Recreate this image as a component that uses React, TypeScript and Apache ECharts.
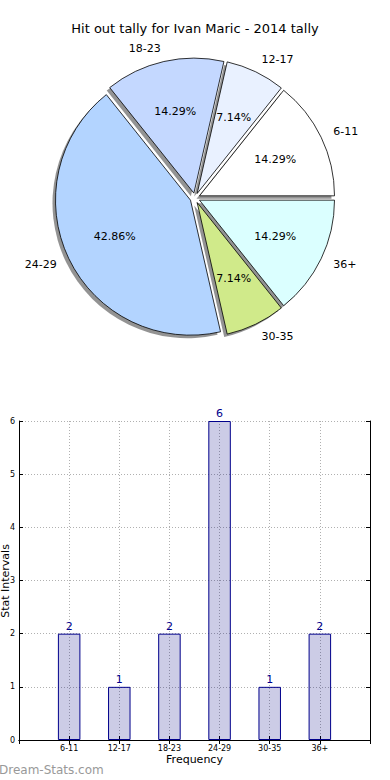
import React, { useEffect, useRef } from 'react';
import * as echarts from 'echarts';

const TITLE = 'Hit out tally for Ivan Maric - 2014 tally';
const categories = ['6-11', '12-17', '18-23', '24-29', '30-35', '36+'];
const counts = [2, 1, 2, 6, 1, 2];
const sliceColors = ['#ffffff', '#e9f1ff', '#c4d8ff', '#b3d4ff', '#d0ea8a', '#dbffff'];
const X_NAME = 'Frequency';
const Y_NAME = 'Stat Intervals';
const WATERMARK = 'Dream-Stats.com';

const FONT = 'DejaVu Sans';
const CX = 195;
const CY = 198;
const R = 135;
const EXPLODE = 5;

export default function App() {
  const ref = useRef<HTMLDivElement>(null);

  useEffect(() => {
    if (!ref.current) return;
    const chart = echarts.init(ref.current, null, { renderer: 'svg' });
    const total = counts.reduce((a, b) => a + b, 0);

    const pieData = (withColor: boolean) =>
      categories.map((c, i) => ({
        name: c,
        value: counts[i],
        selected: true,
        itemStyle: withColor ? { color: sliceColors[i] } : undefined,
      }));

    const pieCommon = {
      type: 'pie',
      startAngle: 0,
      clockwise: false,
      selectedMode: 'multiple',
      selectedOffset: EXPLODE,
      avoidLabelOverlap: false,
      silent: true,
      emphasis: { disabled: true },
      labelLine: { show: false },
    };

    const paddedCats = ['', ...categories, ''];
    const paddedCounts: (number | string)[] = ['-', ...counts, '-'];

    const axisLineStyle = { show: true, lineStyle: { color: '#000', width: 1 } };
    const tickStyle = { show: true, inside: true, length: 4, interval: 0, lineStyle: { color: '#000' } };
    const gridLine = { show: true, lineStyle: { color: '#b0b0b0', type: [1, 2], width: 1 } };

    chart.setOption({
      animation: false,
      textStyle: { fontFamily: FONT },
      title: {
        text: TITLE,
        left: 'center',
        top: 17,
        textStyle: { fontSize: 13, fontWeight: 'normal', color: '#000', fontFamily: FONT },
      },
      grid: { left: 19, right: 20, top: 421, bottom: 40, containLabel: false, outerBoundsMode: 'none' },
      xAxis: [
        {
          type: 'category',
          data: paddedCats,
          boundaryGap: false,
          position: 'bottom',
          axisLine: axisLineStyle,
          axisTick: tickStyle,
          axisLabel: { interval: 0, fontSize: 8, color: '#000', margin: 4, fontFamily: FONT },
          splitLine: { ...gridLine, interval: 0 },
          name: X_NAME,
          nameLocation: 'middle',
          nameGap: 14,
          nameMoveOverlap: false,
          nameTextStyle: { fontSize: 11, color: '#000', fontFamily: FONT },
        },
        {
          type: 'category',
          data: paddedCats,
          boundaryGap: false,
          position: 'top',
          axisLine: axisLineStyle,
          axisTick: tickStyle,
          axisLabel: { show: false },
          splitLine: { show: false },
        },
      ],
      yAxis: [
        {
          type: 'value',
          min: 0,
          max: 6,
          interval: 1,
          position: 'left',
          axisLine: axisLineStyle,
          axisTick: tickStyle,
          axisLabel: { fontSize: 8, color: '#000', margin: 4, fontFamily: FONT },
          splitLine: gridLine,
        },
        {
          type: 'value',
          min: 0,
          max: 6,
          interval: 1,
          position: 'right',
          axisLine: axisLineStyle,
          axisTick: tickStyle,
          axisLabel: { show: false },
          splitLine: { show: false },
        },
      ],
      graphic: [
        {
          type: 'text',
          x: 5,
          y: 581,
          rotation: Math.PI / 2,
          style: {
            text: Y_NAME,
            fontSize: 11,
            fill: '#000',
            fontFamily: FONT,
            align: 'center',
            verticalAlign: 'middle',
          },
        },
        {
          type: 'text',
          left: -1,
          top: 764,
          style: { text: WATERMARK, fontSize: 12, fill: '#999999', fontFamily: FONT },
        },
      ],
      series: [
        // shadow
        {
          ...pieCommon,
          center: [CX - 3, CY + 3],
          radius: [0, R],
          z: 1,
          data: pieData(false),
          itemStyle: { color: 'rgba(40,40,40,0.5)', borderWidth: 0 },
          label: { show: false },
        },
        // wedges
        {
          ...pieCommon,
          center: [CX, CY],
          radius: [0, R],
          z: 2,
          data: pieData(true),
          itemStyle: { borderColor: '#000', borderWidth: 0.8 },
          label: { show: false },
        },
        // percentage labels
        {
          ...pieCommon,
          center: [CX, CY],
          radius: [0.2 * R, R],
          z: 3,
          data: pieData(false),
          itemStyle: { color: 'rgba(0,0,0,0)', borderWidth: 0 },
          select: { itemStyle: { color: 'rgba(0,0,0,0)', borderWidth: 0 } },
          label: {
            show: true,
            position: 'inner',
            color: '#000',
            fontSize: 11,
            fontFamily: FONT,
            formatter: (p: any) => ((p.value / total) * 100).toFixed(2) + '%',
          },
        },
        // name labels
        {
          ...pieCommon,
          center: [CX, CY],
          radius: [0, 1.1 * R],
          z: 3,
          data: pieData(false),
          itemStyle: { color: 'rgba(0,0,0,0)', borderWidth: 0 },
          select: { itemStyle: { color: 'rgba(0,0,0,0)', borderWidth: 0 } },
          labelLine: { show: false, length: 0, length2: 0 },
          label: {
            show: true,
            position: 'outside',
            color: '#000',
            fontSize: 11,
            fontFamily: FONT,
            distanceToLabelLine: 0,
            formatter: '{b}',
          },
        },
        {
          type: 'bar',
          xAxisIndex: 0,
          yAxisIndex: 0,
          data: paddedCounts,
          barWidth: 22.5,
          itemStyle: { color: 'rgba(0,0,128,0.2)', borderColor: '#00008b', borderWidth: 1 },
          label: { show: true, position: 'top', distance: 2, color: '#00008b', fontSize: 11, fontFamily: FONT },
          emphasis: { disabled: true },
        },
      ],
    });

    return () => chart.dispose();
  }, []);

  return (
    <div
      ref={ref}
      style={{ position: 'absolute', left: 0, top: 0, width: 390, height: 780, background: '#fff' }}
    />
  );
}
